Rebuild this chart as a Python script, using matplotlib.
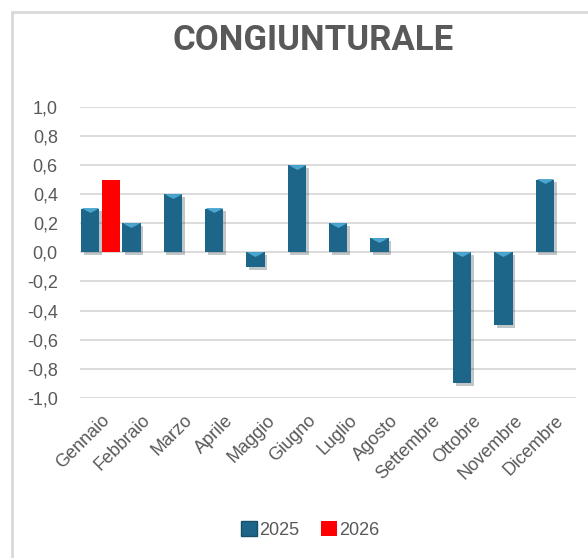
"""Congiunturale: monthly change, 2025 vs 2026 (Excel-style bevel bars)."""

import matplotlib

matplotlib.use("Agg")
import matplotlib.pyplot as plt
import matplotlib.patheffects as pe
import numpy as np
from matplotlib.patches import Patch, Rectangle
from matplotlib.ticker import FuncFormatter

months = ["Gennaio", "Febbraio", "Marzo", "Aprile", "Maggio", "Giugno",
          "Luglio", "Agosto", "Settembre", "Ottobre", "Novembre", "Dicembre"]
values_2025 = [0.3, 0.2, 0.4, 0.3, -0.1, 0.6, 0.2, 0.1, 0.0, -0.9, -0.5, 0.5]
values_2026 = [0.5, np.nan, np.nan, np.nan, np.nan, np.nan,
               np.nan, np.nan, np.nan, np.nan, np.nan, np.nan]
y_ticks = [-1.0, -0.8, -0.6, -0.4, -0.2, 0.0, 0.2, 0.4, 0.6, 0.8, 1.0]

BLUE = "#1d6689"
BLUE_EDGE = "#174f69"
BEVEL = "#4aa6cf"
RED = "#ff0000"
GREY = "#595959"
GRID = "#d9d9d9"

plt.rcParams["font.family"] = ["Liberation Sans", "DejaVu Sans"]

W, H = 588, 558
fig = plt.figure(figsize=(W / 100, H / 100), dpi=100)
ax = fig.add_axes([80 / W, (H - 398) / H, (576 - 80) / W, (398 - 106.7) / H])

x = np.arange(len(months))
width = 0.44
offset = 0.255
shadow = [pe.SimplePatchShadow(offset=(2, -2), alpha=0.25), pe.Normal()]

ax.bar(x - offset, values_2025, width, color=BLUE, edgecolor=BLUE_EDGE,
       linewidth=0, zorder=3, path_effects=shadow)
ax.bar(x + offset, values_2026, width, color=RED, zorder=3)

# bevel highlight along the top edge of each 2025 bar
bevel_marker = [(-1, 0.28), (1, 0.28), (0.55, 0.0), (0, -0.28), (-0.55, 0.0)]
for xi, v in zip(x - offset, values_2025):
    if v == 0:
        continue
    top = max(v, 0.0)
    ax.plot(xi, top - 0.012, marker=bevel_marker, markersize=12.5, color=BEVEL,
            markeredgewidth=0, zorder=4)

ax.set_xlim(-0.5, len(months) - 0.5)
ax.set_ylim(-1.0, 1.0)
ax.set_yticks(y_ticks)
ax.yaxis.set_major_formatter(FuncFormatter(lambda v, _: f"{v:.1f}".replace(".", ",")))
ax.set_xticks(x)
ax.set_xticklabels(months, rotation=45, ha="right", rotation_mode="anchor")
ax.tick_params(axis="both", length=0, labelsize=13, colors=GREY)
ax.tick_params(axis="y", pad=16)
ax.tick_params(axis="x", pad=10)
ax.grid(True, axis="y", color=GRID, linewidth=1.3, zorder=0)
for s in ax.spines.values():
    s.set_visible(False)

fig.text(313 / W, 1 - 40 / H, "CONGIUNTURALE", ha="center", va="center",
         fontsize=25, fontweight="bold", color=GREY, family="Roboto")

handles = [Patch(facecolor=BLUE, edgecolor=BLUE_EDGE), Patch(facecolor=RED)]
fig.legend(handles, ["2025", "2026"], loc="center", bbox_to_anchor=(310 / W, 1 - 530 / H),
           ncol=2, frameon=False, fontsize=13, labelcolor=GREY, handlelength=0.9,
           handleheight=0.9, handletextpad=0.1, columnspacing=1.2)

# chart frame (top and left edges visible)
fig.add_artist(Rectangle((12 / W, -0.1), 1.2, 1.1 - 12 / H, transform=fig.transFigure,
                         fill=False, edgecolor="#d9d9d9", linewidth=2))

fig.savefig("out.png", dpi=100)
